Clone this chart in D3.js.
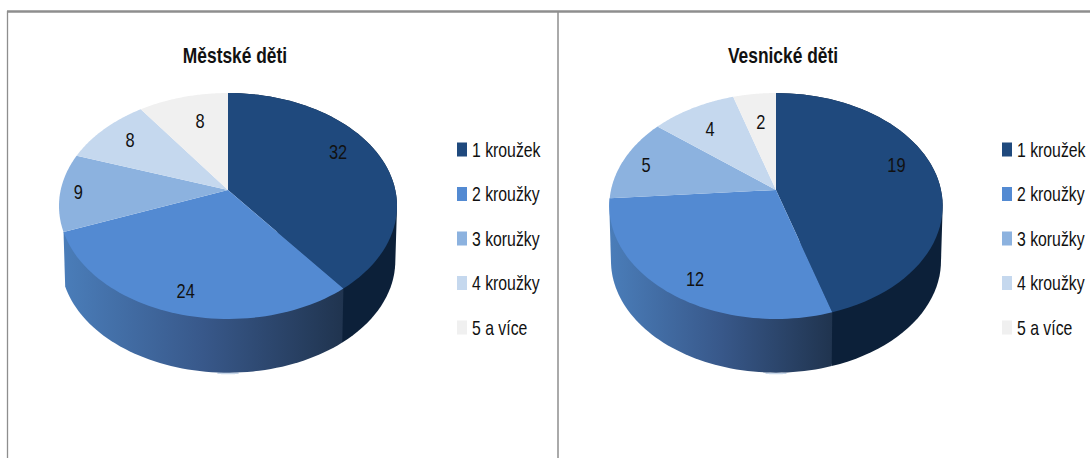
<!DOCTYPE html>
<html>
<head>
<meta charset="utf-8">
<script src="https://cdn.jsdelivr.net/npm/d3@7/dist/d3.min.js"></script>
<style>
html, body { margin: 0; padding: 0; background: #fff; overflow: hidden; }
text { font-family: "Liberation Sans", sans-serif; fill: #111; }
</style>
</head>
<body>
<svg id="chart" width="1090" height="458"></svg>
<script>
// data
var categories = ["1 kroužek", "2 kroužky", "3 koružky", "4 kroužky", "5 a více"];
var mestskeValues = [32, 24, 9, 8, 8];
var vesnickeValues = [19, 12, 5, 4, 2];
var colors = ["#1f497d", "#538ad2", "#8cb2df", "#c5d8ee", "#f0f0f0"];

var svg = d3.select("#chart");
var defs = svg.append("defs");

// perspective of the tilted disc
var tilt = 0.1416;
var pieB = 110.7;
var depth = 55, rimScale = 0.99;

function project(p, angle, r) {
    var u = Math.sin(angle) * r, v = -Math.cos(angle) * r;
    var w = 1 - tilt * v;
    return [p.cx + p.a * u / w, p.cy + pieB * v / w];
}

function bottom(p, angle) {
    var q = project(p, angle, 1);
    return [p.cx + (q[0] - p.cx) * rimScale, p.cy + (q[1] - p.cy) * rimScale + depth];
}

function arcAngles(a0, a1) {
    return d3.range(0, 61).map(function(i) { return a0 + (a1 - a0) * i / 60; });
}

var line = d3.line();
var colorScale = d3.scaleOrdinal().domain(categories).range(colors);

function drawPie(p) {
    var g = svg.append("g");
    var arcs = d3.pie().sort(null)(p.values);

    // gradient on the wall of the second slice
    var gradId = "wall" + p.cx;
    var grad = defs.append("linearGradient").attr("id", gradId)
        .attr("gradientUnits", "userSpaceOnUse")
        .attr("x1", project(p, arcs[1].endAngle, 1)[0]).attr("y1", 0)
        .attr("x2", project(p, arcs[1].startAngle, 1)[0]).attr("y2", 0);
    grad.append("stop").attr("offset", 0).attr("stop-color", "#4a7db9");
    grad.append("stop").attr("offset", 0.5).attr("stop-color", "#38588a");
    grad.append("stop").attr("offset", 1).attr("stop-color", "#20344f");

    // light sliver under the lowest point of the rim
    g.append("path")
        .attr("d", line(arcAngles(Math.PI - 0.055, Math.PI + 0.055).map(function(a) { return bottom(p, a); })))
        .attr("transform", "translate(0,0.8)")
        .attr("fill", "none").attr("stroke", "#c5d5e8").attr("stroke-width", 1.5);

    // walls: only the two front slices show one, hull gives the straight silhouette
    g.selectAll(".wall").data(arcs.slice(0, 2)).enter().append("path")
        .attr("class", "wall")
        .attr("d", function(d) {
            var as = arcAngles(d.startAngle, d.endAngle);
            var pts = as.map(function(a) { return project(p, a, 1); })
                .concat(as.map(function(a) { return bottom(p, a); }));
            return line(d3.polygonHull(pts)) + "Z";
        })
        .attr("fill", function(d, i) { return i == 0 ? "#0c2039" : "url(#" + gradId + ")"; });

    // top face
    g.selectAll(".slice").data(arcs).enter().append("path")
        .attr("class", "slice")
        .attr("d", function(d) {
            var pts = arcAngles(d.startAngle, d.endAngle).map(function(a) { return project(p, a, 1); });
            return line([[p.cx, p.cy]].concat(pts)) + "Z";
        })
        .attr("fill", function(d, i) { return colorScale(categories[i]); });

    // value labels
    g.selectAll(".val").data(arcs).enter().append("text")
        .attr("class", "val")
        .attr("transform", function(d, i) {
            var mid = (d.startAngle + d.endAngle) / 2 + p.labelShift[i] * Math.PI / 180;
            var q = project(p, mid, p.labelR[i]);
            return "translate(" + q[0] + "," + q[1] + ") scale(0.82,1)";
        })
        .attr("text-anchor", "middle")
        .attr("dy", "0.36em")
        .style("font-size", "20px")
        .text(function(d) { return d.data; });

    // title
    svg.append("text")
        .attr("transform", "translate(" + p.titleX + ",63) scale(0.79,1)")
        .attr("text-anchor", "middle")
        .style("font-size", "22px")
        .style("font-weight", "bold")
        .text(p.title);

    // legend
    var rowY = d3.scalePoint().domain(categories).range([149.5, 327.5]);
    var leg = svg.append("g").selectAll("g").data(categories).enter().append("g")
        .attr("transform", function(d) { return "translate(" + p.legendX + "," + rowY(d) + ")"; });
    leg.append("rect").attr("x", 0).attr("y", -7).attr("width", 10).attr("height", 14)
        .attr("fill", function(d) { return colorScale(d); });
    leg.append("text")
        .attr("transform", "translate(15,0) scale(0.79,1)")
        .attr("dy", "0.36em")
        .style("font-size", "20px")
        .text(function(d) { return d; });
}

// frame
svg.append("line").attr("x1", 7).attr("x2", 1090).attr("y1", 11.5).attr("y2", 11.5)
    .attr("stroke", "#8e8e8e").attr("stroke-width", 2.5);
svg.append("line").attr("x1", 7.5).attr("x2", 7.5).attr("y1", 11).attr("y2", 458)
    .attr("stroke", "#8e8e8e").attr("stroke-width", 1.3);
svg.append("line").attr("x1", 558).attr("x2", 558).attr("y1", 11).attr("y2", 458)
    .attr("stroke", "#8e8e8e").attr("stroke-width", 1.5);

drawPie({
    title: "Městské děti", titleX: 235, values: mestskeValues,
    cx: 228, cy: 190, a: 167.3, legendX: 457,
    labelR: [0.78, 0.836, 0.893, 0.79, 0.707],
    labelShift: [-8.7, 0, 0, 1, 2.8]
});
drawPie({
    title: "Vesnické děti", titleX: 783, values: vesnickeValues,
    cx: 776, cy: 190, a: 165, legendX: 1002,
    labelR: [0.79, 0.846, 0.847, 0.739, 0.681],
    labelShift: [-8.7, -2.9, -1, -1.7, 0]
});
</script>
</body>
</html>
